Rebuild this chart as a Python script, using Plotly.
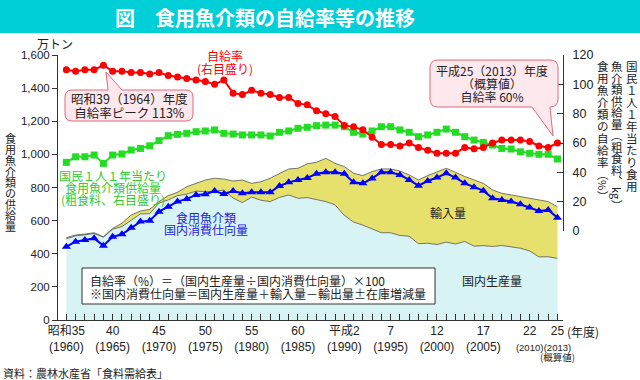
import plotly.graph_objects as go

# ---------------- data ----------------
years = list(range(1960, 2014))

# 自給率 (%), right axis
self_sufficiency_pct = [110, 109, 110, 110, 113, 109, 109, 108, 108, 107,
                        108, 106, 105, 104, 103, 102, 100, 103, 94, 93,
                        96, 94, 93, 91, 91, 87, 86, 82, 80, 78,
                        72, 71, 69, 64, 59, 59, 58, 60, 57, 55,
                        53, 53, 53, 57, 56, 57, 60, 62, 62, 62,
                        61, 58, 57, 60]

# 国民1人1年当たり食用魚介類供給量 (粗食料, kg), right axis
per_capita_supply_kg = [46.8, 50.6, 50.6, 51.8, 46.1, 51.8, 52.5, 55.2, 56.3, 58.1,
                        61.6, 65.0, 65.9, 66.6, 67.7, 68.2, 68.9, 66.6, 66.1, 65.5,
                        65.5, 65.5, 64.8, 67.3, 68.2, 70.0, 70.7, 71.8, 72.2, 72.2,
                        71.1, 67.3, 66.1, 68.2, 71.1, 71.1, 68.9, 67.3, 64.3, 65.5,
                        67.3, 69.5, 67.3, 64.3, 62.0, 60.4, 58.6, 56.3, 55.9, 54.0,
                        53.0, 52.3, 52.3, 49.1]

# 食用魚介類 国内消費仕向量 (万トン), left axis
domestic_consumption = [443, 473, 483, 493, 449, 503, 517, 557, 594, 600,
                        654, 684, 715, 731, 755, 759, 779, 761, 779, 765,
                        771, 771, 771, 809, 831, 845, 858, 883, 892, 892,
                        883, 831, 825, 855, 892, 892, 876, 846, 811, 839,
                        860, 886, 860, 825, 801, 781, 735, 725, 715, 699,
                        679, 658, 664, 618]

# 国内生産量 (万トン)
domestic_production = [490, 508, 514, 522, 500, 548, 564, 602, 641, 642,
                       706, 725, 751, 760, 778, 774, 779, 784, 736, 709,
                       742, 723, 715, 740, 755, 735, 739, 728, 715, 695,
                       632, 591, 573, 550, 527, 527, 510, 506, 461, 463,
                       456, 470, 459, 474, 446, 449, 444, 450, 443, 433,
                       417, 381, 382, 372]

# 国内生産量 + 輸入量 (万トン)
production_plus_imports = [497, 513, 519, 527, 503, 553, 584, 634, 658, 668,
                           715, 751, 771, 805, 825, 845, 856, 851, 839, 845,
                           825, 835, 856, 886, 912, 916, 943, 952, 976, 946,
                           926, 886, 872, 896, 912, 912, 900, 876, 846, 872,
                           896, 916, 892, 866, 846, 825, 785, 765, 755, 745,
                           731, 725, 715, 684]

tick_years = [1960, 1965, 1970, 1975, 1980, 1985, 1990, 1995, 2000, 2005, 2010, 2013]
tick_era = ["昭和35", "40", "45", "50", "55", "60", "平成2", "7", "12", "17", "22", "25"]
tick_western = ["(1960)", "(1965)", "(1970)", "(1975)", "(1980)", "(1985)",
                "(1990)", "(1995)", "(2000)", "(2005)", "(2010)", "(2013)"]
small_western = {2010, 2013}

left_ticks = [0, 200, 400, 600, 800, 1000, 1200, 1400, 1600]
right_ticks = [0, 20, 40, 60, 80, 100, 120]

# ---------------- styling ----------------
W, H = 640, 380
PL, PR, PT, PB = 58, 563, 55, 320        # plot area in pixels
JP = "Noto Sans CJK JP"
NUM = "Liberation Sans, Noto Sans CJK JP"
RED = "#FF0000"
GREEN = "#22DD22"
GREEN_T = "#2ECC2E"
BLUE = "#0000FF"
BLUE_T = "#2222DD"
CYAN_FILL = "#D8F3F3"
YELLOW_FILL = "#E6E06C"
AXIS = "#333333"
TXT = "#222222"


def px(x):
    return (x - PL) / (PR - PL)


def py(y):
    return (PB - y) / (PB - PT)


ticktext_map = {}
for yv, era, west in zip(tick_years, tick_era, tick_western):
    if yv in small_western:
        ticktext_map[yv] = f"{era}<br><span style='font-size:9.5px'>{west}</span>"
    else:
        ticktext_map[yv] = f"{era}<br>{west}"
x_tickvals = years
x_ticktext = [ticktext_map.get(yv, "") for yv in years]

fig = go.Figure()

fig.add_trace(go.Scatter(x=years, y=domestic_production, mode="lines",
                         line=dict(color="#555555", width=0.8),
                         fill="tozeroy", fillcolor=CYAN_FILL,
                         hoverinfo="skip", yaxis="y"))
fig.add_trace(go.Scatter(x=years, y=production_plus_imports, mode="lines",
                         line=dict(color="#555555", width=0.8),
                         fill="tonexty", fillcolor=YELLOW_FILL,
                         hoverinfo="skip", yaxis="y"))
fig.add_trace(go.Scatter(x=years, y=domestic_consumption, mode="lines+markers",
                         line=dict(color=BLUE, width=2),
                         marker=dict(symbol="triangle-up", size=8, color=BLUE),
                         yaxis="y"))
fig.add_trace(go.Scatter(x=years, y=per_capita_supply_kg, mode="lines+markers",
                         line=dict(color=GREEN, width=2),
                         marker=dict(symbol="square", size=7, color=GREEN),
                         yaxis="y2"))
fig.add_trace(go.Scatter(x=years, y=self_sufficiency_pct, mode="lines+markers",
                         line=dict(color=RED, width=2),
                         marker=dict(symbol="circle", size=7, color=RED),
                         yaxis="y2"))

shapes = []
annotations = []


def txt(text, x, y, size=12, color=TXT, xanchor="center", angle=0, weight="normal"):
    annotations.append(dict(text=text, x=px(x), y=py(y), xref="paper", yref="paper",
                            xanchor=xanchor, yanchor="middle", showarrow=False,
                            textangle=angle, borderpad=0,
                            font=dict(size=size, color=color, family=JP, weight=weight)))


def block(lines, x, y_first, step, size=12, color=TXT, xanchor="center", align="center"):
    """Multi-line text with a custom line step (line spacing = 1.3 x base font)."""
    base = step / 1.3
    text = "<br>".join(f"<span style='font-size:{size}px'>{ln}</span>" for ln in lines)
    yc = y_first + step * (len(lines) - 1) / 2
    annotations.append(dict(text=text, x=px(x), y=py(yc), xref="paper", yref="paper",
                            xanchor=xanchor, yanchor="middle", align=align,
                            showarrow=False, borderpad=0,
                            font=dict(size=base, color=color, family=JP)))


def callout_path(pts):
    s = ""
    for p in pts:
        if p[0] == "M":
            s += f"M {px(p[1])},{py(p[2])} "
        elif p[0] == "L":
            s += f"L {px(p[1])},{py(p[2])} "
        elif p[0] == "Q":
            s += f"Q {px(p[1])},{py(p[2])} {px(p[3])},{py(p[4])} "
    return s + "Z"


# title bar
shapes.append(dict(type="rect", xref="paper", yref="paper",
                   x0=px(0), x1=px(W), y0=py(0), y1=py(33),
                   fillcolor="#00CFD8", line=dict(width=0), layer="above"))
txt("図　食用魚介類の自給率等の推移", 265, 17, size=20, color="white", weight="bold")

# callout 1 (1964 peak)
L1, R1, T1, B1, r = 65, 193, 90, 121, 7
p1 = [("M", L1 + r, T1), ("L", 108, T1), ("L", 106, 72), ("L", 122, T1),
      ("L", R1 - r, T1), ("Q", R1, T1, R1, T1 + r), ("L", R1, B1 - r),
      ("Q", R1, B1, R1 - r, B1), ("L", L1 + r, B1), ("Q", L1, B1, L1, B1 - r),
      ("L", L1, T1 + r), ("Q", L1, T1, L1 + r, T1)]
shapes.append(dict(type="path", xref="paper", yref="paper", path=callout_path(p1),
                   fillcolor="#FDE8ED", line=dict(color="#E06A7A", width=1), layer="above"))
block(["昭和39（1964）年度", "自給率ピーク 113%"], 129, 99, 13.5, size=12.5)

# callout 2 (2013)
L2, R2, T2, B2, r2 = 430, 558, 60, 107, 8
p2 = [("M", L2 + r2, T2), ("L", R2 - r2, T2), ("Q", R2, T2, R2, T2 + r2),
      ("L", R2, B2 - r2), ("Q", R2, B2, R2 - r2, B2), ("L", 550, B2),
      ("L", 553, 136), ("L", 532, B2), ("L", L2 + r2, B2),
      ("Q", L2, B2, L2, B2 - r2), ("L", L2, T2 + r2), ("Q", L2, T2, L2 + r2, T2)]
shapes.append(dict(type="path", xref="paper", yref="paper", path=callout_path(p2),
                   fillcolor="#FDE8ED", line=dict(color="#E06A7A", width=1), layer="above"))
block(["平成25（2013）年度", "（概算値）", "自給率 60%"], 492, 70, 13, size=12)

# formula box
shapes.append(dict(type="rect", xref="paper", yref="paper",
                   x0=px(82), x1=px(435), y0=py(268), y1=py(304),
                   fillcolor="white", line=dict(color=AXIS, width=1), layer="above"))
block(["自給率（%）＝（国内生産量÷国内消費仕向量）×100",
       "※国内消費仕向量＝国内生産量＋輸入量－輸出量±在庫増減量"],
      89, 280, 13, size=12, xanchor="left", align="left")

# series labels
block(["自給率", "(右目盛り)"], 225, 55, 13, size=12, color=RED)
block(["国民１人１年当たり", "食用魚介類供給量", "(粗食料、右目盛り)"], 113, 175, 12,
      size=12, color=GREEN_T)
block(["食用魚介類", "国内消費仕向量"], 206, 217, 12, size=12, color=BLUE_T)
txt("輸入量", 448, 212, size=12)
txt("国内生産量", 492, 280, size=12)

# axis titles / units
txt("万トン", 55, 43, size=12)
block(list("食用魚介類の供給量"), 10, 138, 11, size=11)
block(list("国民１人１年当たり食用"), 632, 66, 12, size=11.5)
block(list("魚介類供給量︵粗食料︑"), 617, 66, 11.5, size=11.5)
txt("kg", 617, 193, size=11, angle=90)
txt("︶", 617, 205, size=11.5)
block(list("食用魚介類の自給率︵"), 603, 66, 12, size=11.5)
txt("%", 603, 185, size=11, angle=90)
txt("︶", 603, 196, size=11.5)

# x-axis extras
txt("(年度)", 583, 331, size=12)
txt("(概算値)", 557, 357, size=9.5)
txt("資料：農林水産省「食料需給表」", 2, 373, size=11, xanchor="left")

fig.update_layout(
    width=W, height=H,
    margin=dict(l=PL, r=W - PR, t=PT, b=H - PB, pad=0),
    paper_bgcolor="white", plot_bgcolor="rgba(0,0,0,0)",
    showlegend=False,
    shapes=shapes, annotations=annotations,
    xaxis=dict(range=[1959.1, 2013.6], tickvals=x_tickvals, ticktext=x_ticktext,
               tickangle=0, ticks="inside", ticklen=6, tickcolor=AXIS,
               showline=True, linecolor=AXIS, linewidth=1, showgrid=False,
               zeroline=False, tickfont=dict(size=12, family=NUM, color=TXT)),
    yaxis=dict(range=[0, 1600], tickvals=left_ticks, tickformat=",",
               ticks="outside", ticklen=5, tickcolor=AXIS,
               showline=True, linecolor=AXIS, linewidth=1, showgrid=False,
               zeroline=False, tickfont=dict(size=11.5, family=NUM, color=TXT)),
    yaxis2=dict(range=[0, 120], tickvals=right_ticks, domain=[(PB - 231) / (PB - PT), 1],
                anchor="x", side="right", ticks="inside", ticklen=6, tickcolor=AXIS,
                showline=True, linecolor=AXIS, linewidth=1, showgrid=False,
                zeroline=False, ticklabelstandoff=6,
                tickfont=dict(size=12.5, family=NUM, color=TXT)),
)

fig.write_html("out.html", config={"displayModeBar": False},
               post_script="document.body.style.margin='0';document.body.style.overflow='hidden';")
